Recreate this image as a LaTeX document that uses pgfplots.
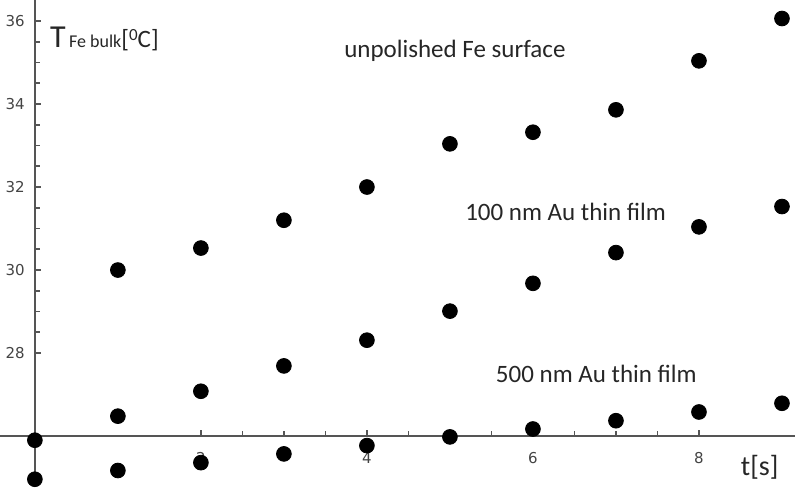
\documentclass[border=0pt]{standalone}
\usepackage{fontspec}
\setmainfont{Carlito}
\newfontfamily\tickfont{DejaVu Sans}
\usepackage{pgfplots}
\pgfplotsset{compat=1.18}
\definecolor{axgray}{HTML}{555555}
\definecolor{tkgray}{HTML}{444444}
\begin{document}
\begin{tikzpicture}
\begin{axis}[
  x=41.5pt, y=20.75pt,
  xmin=-0.42, xmax=9.157, ymin=24.77, ymax=36.506,
  axis x line=bottom, axis y line=left,
  axis x line shift=-25.5pt, axis y line shift=-17.43pt,
  axis line style={axgray, line width=0.9pt, -},
  xtick={2,4,6,8}, ytick={28,30,32,34,36},
  minor x tick num=3, minor y tick num=3,
  tick align=inside,
  major tick length=3.2pt, minor tick length=2.4pt,
  every tick/.style={axgray, line width=0.8pt},
  /pgf/number format/assume math mode=true,
  tick label style={font=\tickfont\fontsize{7.5}{7.5}\selectfont, text=tkgray},
  xticklabel style={yshift=-4.5pt},
  yticklabel style={xshift=-1.5pt},
  clip=false,
]
\addplot[only marks, mark=*, mark size=3.7pt, black] coordinates {
 (0,25.9) (1,30.0) (2,30.53) (3,31.2) (4,32.0) (5,33.04) (6,33.32) (7,33.86) (8,35.04) (9,36.06)
};
\addplot[only marks, mark=*, mark size=3.7pt, black] coordinates {
 (1,26.48) (2,27.08) (3,27.69) (4,28.31) (5,29.01) (6,29.68) (7,30.42) (8,31.04) (9,31.53)
};
\addplot[only marks, mark=*, mark size=3.7pt, black] coordinates {
 (0,24.96) (1,25.17) (2,25.36) (3,25.57) (4,25.77) (5,25.98) (6,26.17) (7,26.37) (8,26.58) (9,26.79)
};
\node[anchor=base west, inner sep=0pt, text=black!85] at (axis cs:0.18,35.35)
  {{\fontsize{16}{16}\selectfont T}\,{\fontsize{9}{9}\selectfont Fe bulk}{\fontsize{12.5}{12.5}\selectfont[\raisebox{0.6ex}{\fontsize{8.5}{8.5}\selectfont 0}C]}};
\node[anchor=base west, inner sep=0pt, text=black!85, font=\fontsize{12.5}{12.5}\selectfont] at (axis cs:3.723,35.11) {unpolished Fe surface};
\node[anchor=base west, inner sep=0pt, text=black!85, font=\fontsize{12.5}{12.5}\selectfont] at (axis cs:5.18,31.2) {100 nm Au thin film};
\node[anchor=base west, inner sep=0pt, text=black!85, font=\fontsize{12.5}{12.5}\selectfont] at (axis cs:5.55,27.29) {500 nm Au thin film};
\node[anchor=base west, inner sep=0pt, text=black!85, font=\fontsize{14}{14}\selectfont] at (axis cs:8.5,25.06) {t[s]};
\end{axis}
\pgfresetboundingbox
\useasboundingbox (current axis.south west) rectangle (current axis.north east);
\end{tikzpicture}
\end{document}
